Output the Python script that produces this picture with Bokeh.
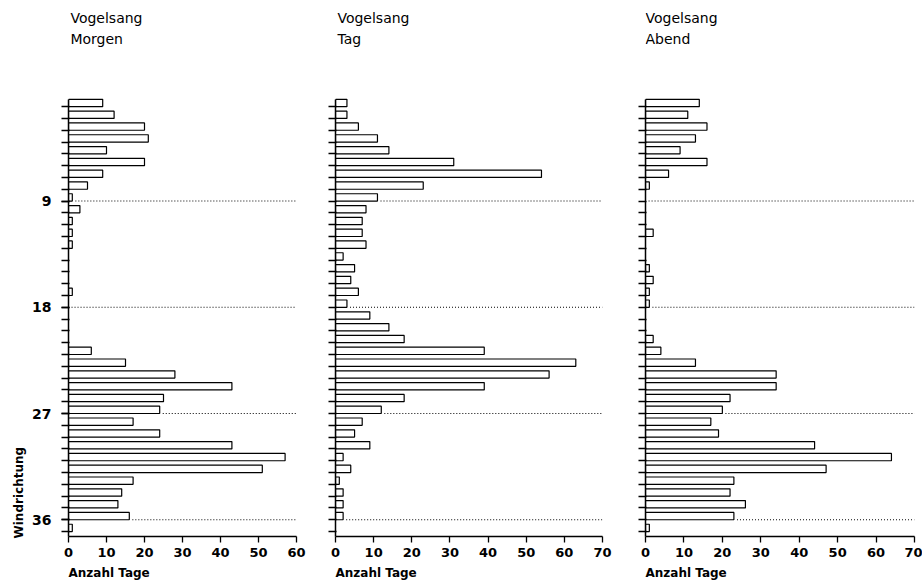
from bokeh.plotting import figure
from bokeh.models import Range1d, FixedTicker, Label, Title
from bokeh.layouts import row
from bokeh.embed import file_html
from bokeh.resources import INLINE

# Wind direction (10-degree sectors), 1 at top
directions = list(range(1, 38))
labelled_directions = [9, 18, 27, 36]

station = "Vogelsang"
periods = ["Morgen", "Tag", "Abend"]

morgen = [9, 12, 20, 21, 10, 20, 9, 5, 1,
          3, 1, 1, 1, 0, 0, 0, 1, 0,
          0, 0, 0, 6, 15, 28, 43, 25, 24,
          17, 24, 43, 57, 51, 17, 14, 13, 16,
          1]
tag = [3, 3, 6, 11, 14, 31, 54, 23, 11,
       8, 7, 7, 8, 2, 5, 4, 6, 3,
       9, 14, 18, 39, 63, 56, 39, 18, 12,
       7, 5, 9, 2, 4, 1, 2, 2, 2,
       0]
abend = [14, 11, 16, 13, 9, 16, 6, 1, 0,
         0, 0, 2, 0, 0, 1, 2, 1, 1,
         0, 0, 2, 4, 13, 34, 34, 22, 20,
         17, 19, 44, 64, 47, 23, 22, 26, 23,
         1]

x_max = [60, 70, 70]
x_ticks = [list(range(0, 61, 10)), list(range(0, 71, 10)), list(range(0, 71, 10))]

FONT = "DejaVu Sans"

widths = [310, 310, 302]
left_b = [68, 25, 25]
right_b = [14, 18, 8]

Y_BOTTOM = 37.42   # lower end of the axis
Y_AXIS_TOP = 0.406  # upper end of the axis
Y_TOP = -7.57       # top of the plotting area (room for titles)

figs = []
for k, (period, vals) in enumerate(zip(periods, [morgen, tag, abend])):
    p = figure(width=widths[k], height=583, output_backend="svg", toolbar_location=None,
               x_range=Range1d(0, x_max[k]), y_range=Range1d(Y_BOTTOM, Y_TOP),
               min_border_left=left_b[k], min_border_right=right_b[k],
               min_border_top=5, min_border_bottom=30)
    p.outline_line_color = None
    p.grid.visible = False
    p.background_fill_color = "white"

    # titles
    tx = 0.5 if k < 2 else 0.0
    p.add_layout(Label(x=tx, y=-6.47, text=station, text_font=FONT,
                       text_font_size="14px", text_baseline="middle", text_align="left",
                       text_color="black"))
    p.add_layout(Label(x=tx, y=-4.69, text=period, text_font=FONT,
                       text_font_size="14px", text_baseline="middle", text_align="left",
                       text_color="black"))

    # bars
    ys = [d - 0.31 for d, v in zip(directions, vals) if v > 0]
    vs = [v for v in vals if v > 0]
    p.hbar(y=ys, left=0, right=vs, height=0.62, fill_color="white",
           line_color="black", line_width=1.2)

    # dotted reference lines
    x0 = [vals[d - 1] + 0.8 for d in labelled_directions]
    x1 = [x_max[k]] * len(labelled_directions)
    p.segment(x0=x0, y0=labelled_directions, x1=x1, y1=labelled_directions,
              line_color="black", line_width=1.1, line_dash="1 2")

    # axes
    xa = p.xaxis[0]
    xa.ticker = FixedTicker(ticks=x_ticks[k])
    xa.axis_line_width = 1.5
    xa.major_tick_line_width = 1.3
    xa.major_tick_in = 0
    xa.major_tick_out = 6
    xa.minor_tick_out = 0
    xa.major_label_standoff = 5
    xa.major_label_text_font = FONT
    xa.major_label_text_font_size = "13px"
    xa.major_label_text_font_style = "bold"
    xa.major_label_text_color = "black"

    p.add_layout(Title(text="Anzahl Tage", align="left", offset=0, standoff=8,
                       text_font=FONT, text_font_size="12px", text_font_style="bold",
                       text_color="black"), "below")

    ya = p.yaxis[0]
    ya.bounds = (Y_AXIS_TOP, Y_BOTTOM)
    ya.ticker = FixedTicker(ticks=labelled_directions if k == 0 else [],
                            minor_ticks=directions)
    ya.axis_line_width = 1.5
    ya.major_tick_line_width = 1.3
    ya.minor_tick_line_width = 1.3
    ya.major_tick_in = 1
    ya.major_tick_out = 7
    ya.minor_tick_in = 1
    ya.minor_tick_out = 7
    ya.major_label_standoff = 10
    ya.major_label_text_font = FONT
    ya.major_label_text_font_size = "14px"
    ya.major_label_text_font_style = "bold"
    ya.major_label_text_color = "black"
    if k == 0:
        p.add_layout(Title(text="Windrichtung", align="left", offset=-2, standoff=8,
                           text_font=FONT, text_font_size="12px", text_font_style="bold",
                           text_color="black"), "left")
    figs.append(p)

layout = row(*figs, spacing=0)
open("out.html", "w").write(file_html(layout, INLINE))
